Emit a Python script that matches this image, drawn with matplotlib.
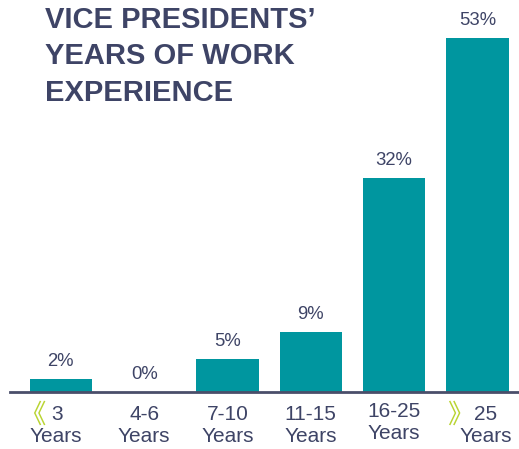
import matplotlib.pyplot as plt

# ------------------------------------------------------
# Data
# ------------------------------------------------------

ranges = ["3", "4-6", "7-10", "11-15", "16-25", "25"]
markers = ["《", "", "", "", "", "》"]
shares = [2, 0, 5, 9, 32, 53]

teal = "#00969F"
navy = "#3E4466"
lime = "#B9D432"

plt.rcParams["font.family"] = ["Liberation Sans", "Noto Sans CJK SC", "DejaVu Sans"]

fig = plt.figure(figsize=(5.19, 4.49), dpi=100)
ax = fig.add_axes([0.0193, 0.127, 0.9807, 0.873])

x = list(range(len(shares)))
bars = ax.bar(x, shares, width=0.75, color=teal)

ax.set_xlim(-0.61, 5.5)
ax.set_ylim(0, 58.7)

# value labels above bars
for xi, v in zip(x, shares):
    ax.annotate(
        f"{v}%",
        xy=(xi, v),
        xytext=(0, 9),
        textcoords="offset pixels",
        ha="center",
        va="bottom",
        fontsize=13.3,
        color=navy,
    )

# category labels (two lines, with chevrons on open-ended ranges)
line_offsets = {0: (-4, -5), 5: (8, 8)}
chevron_dx = {0: -29, 5: -17}
for xi, (rng, mk) in enumerate(zip(ranges, markers)):
    dx1, dx2 = line_offsets.get(xi, (0, 0))
    dy = 3 if xi == 4 else 0
    ax.annotate(
        rng,
        xy=(xi, 0),
        xycoords=("data", "axes fraction"),
        xytext=(dx1, -13 + dy),
        textcoords="offset pixels",
        ha="center",
        va="top",
        fontsize=15,
        color=navy,
    )
    ax.annotate(
        "Years",
        xy=(xi, 0),
        xycoords=("data", "axes fraction"),
        xytext=(dx2, -35 + dy),
        textcoords="offset pixels",
        ha="center",
        va="top",
        fontsize=15,
        color=navy,
    )
    if mk:
        ax.annotate(
            mk,
            xy=(xi, 0),
            xycoords=("data", "axes fraction"),
            xytext=(chevron_dx[xi], -10),
            textcoords="offset pixels",
            ha="center",
            va="top",
            fontsize=19,
            color=lime,
            family=["Noto Sans CJK SC", "DejaVu Sans"],
        )

fig.text(
    45 / 519,
    1 - 6 / 449,
    "VICE PRESIDENTS’\nYEARS OF WORK\nEXPERIENCE",
    ha="left",
    va="top",
    fontsize=21,
    fontweight="bold",
    color=navy,
    linespacing=1.38,
)

for side in ["top", "right", "left"]:
    ax.spines[side].set_visible(False)
ax.spines["bottom"].set_color("#4A4E6A")
ax.spines["bottom"].set_linewidth(2)
ax.set_xticks([])
ax.set_yticks([])

fig.savefig("out.png", dpi=100)
